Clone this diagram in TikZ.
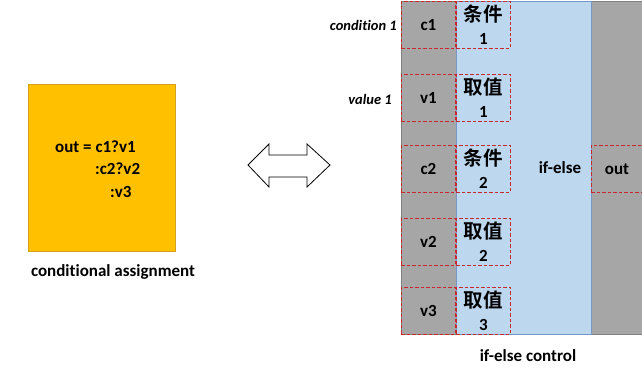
\documentclass[tikz,border=0pt]{standalone}
\usepackage{fontspec}
\setmainfont{Carlito}[BoldFont={Carlito Bold}, ItalicFont={Carlito Italic}, BoldItalicFont={Carlito Bold Italic}, Ligatures=NoCommon]
\newfontfamily\cjk{Noto Sans CJK SC}[BoldFont={Noto Sans CJK SC Bold}]
\definecolor{ygold}{RGB}{255,192,0}
\definecolor{ygoldb}{RGB}{214,160,30}
\definecolor{gcol}{RGB}{166,166,166}
\definecolor{gcolb}{RGB}{128,128,128}
\definecolor{bcol}{RGB}{189,215,238}
\definecolor{bcolb}{RGB}{120,150,200}
\definecolor{rdash}{RGB}{200,40,45}
\tikzset{
  x=1pt,y=-1pt,
  every node/.style={font=\fontsize{17}{20}\selectfont\bfseries, inner sep=0pt},
  cell/.style={draw=rdash, dash pattern=on 3.5pt off 2pt, line width=0.9pt, minimum width=54pt, minimum height=47pt, anchor=north west},
  cjkcell/.style={cell, align=center, font=\fontsize{17}{23}\selectfont\bfseries},
  sidelabel/.style={font=\fontsize{14.5}{17}\selectfont\bfseries\itshape, anchor=east},
}
\newcommand{\cjkbig}[1]{{\cjk\fontsize{19.5}{23}\selectfont\bfseries #1}}
\begin{document}
\begin{tikzpicture}
\useasboundingbox (0,0) rectangle (642,368);
% left: conditional assignment
\node[draw=ygoldb, fill=ygold, line width=0.8pt, minimum width=147pt, minimum height=167pt, anchor=north west] (box) at (28,84) {};
\node[anchor=west] (l1) at (55,147) {out = c1?v1};
\node[anchor=west] (l2) at (95,169) {:c2?v2};
\node[anchor=west] (l3) at (110,192) {:v3};
\node (cap1) at (113,272) {conditional assignment};
% double arrow
\draw[line width=0.8pt, fill=white] (248,165) -- (269,144) -- (269,155) -- (307,155) -- (307,144) -- (330,165) -- (307,187) -- (307,177) -- (269,177) -- (269,187) -- cycle;
% columns
\node[draw=gcolb, fill=gcol, line width=0.8pt, minimum width=55pt, minimum height=333pt, anchor=north west] (gleft) at (401,1) {};
\node[draw=gcolb, fill=gcol, line width=0.8pt, minimum width=60pt, minimum height=333pt, anchor=north west] (gright) at (591,1) {};
\node[draw=bcolb, fill=bcol, line width=0.8pt, minimum width=135pt, minimum height=333pt, anchor=north west] (blue) at (456,1) {};
% left cells
\node[cell] (c1) at (401,1) {c1};
\node[cell] (v1) at (401,74) {v1};
\node[cell] (c2) at (401,145) {c2};
\node[cell] (v2) at (401,218) {v2};
\node[cell] (v3) at (401,287) {v3};
% cjk cells
\node[cjkcell] (k1) at (456,1) {\cjkbig{条件}\\1};
\node[cjkcell] (k2) at (456,74) {\cjkbig{取值}\\1};
\node[cjkcell] (k3) at (456,145) {\cjkbig{条件}\\2};
\node[cjkcell] (k4) at (456,218) {\cjkbig{取值}\\2};
\node[cjkcell] (k5) at (456,287) {\cjkbig{取值}\\3};
% if-else and out
\node (ifelse) at (560,168) {if-else};
\node[cell, minimum width=51pt] (out) at (591,145) {out};
% side labels
\node[sidelabel] (cond) at (397,25) {condition 1};
\node[sidelabel] (val) at (392,99) {value 1};
\node (cap2) at (528,356) {if-else control};
\end{tikzpicture}
\end{document}
